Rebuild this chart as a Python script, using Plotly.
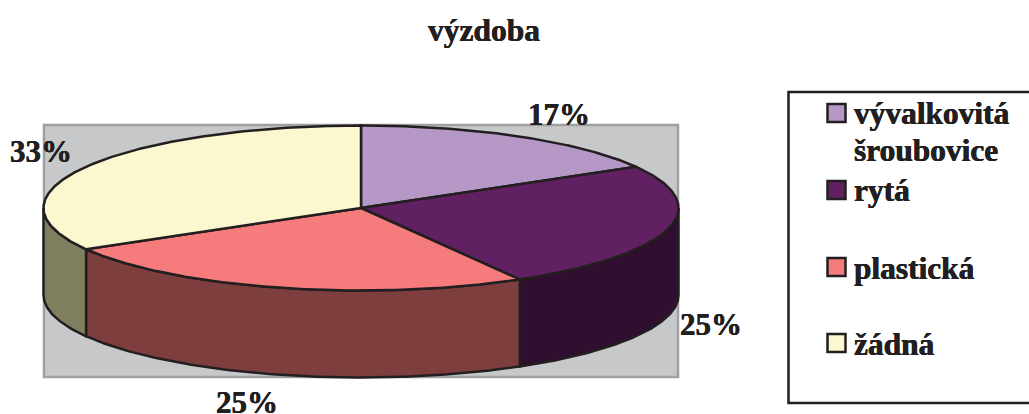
import numpy as np
import plotly.graph_objects as go

# Data
categories = ["vývalkovitá<br>šroubovice", "rytá", "plastická", "žádná"]
counts = [2, 3, 3, 4]
top_colors = ["#B598C6", "#612062", "#F57B7D", "#FBF8CF"]
side_colors = ["#5A4C63", "#300E30", "#7E3E3E", "#7F7F60"]
title_text = "výzdoba"

INK = "#231F20"
FONT = "Liberation Serif"
SHADOW = "0.35px 0 0 #231F20, -0.35px 0 0 #231F20"
W, H = 1029, 414
CX, CY, RX, RY, DEPTH = 361, 208, 317.5, 82.5, 87
LW = 2.5

total = sum(counts)
shares = [c / total for c in counts]
ends = np.cumsum(shares) * 360
starts = np.concatenate([[0], ends[:-1]])


def rim(a0, a1, dy=0.0, n=None):
    n = n or max(2, int(abs(a1 - a0)) * 2)
    t = np.radians(np.linspace(a0, a1, n))
    return CX + RX * np.sin(t), CY - RY * np.cos(t) + dy


fig = go.Figure()

# Side walls (only the front half, 90-270 deg, is visible)
for a0, a1, col in zip(starts, ends, side_colors):
    lo, hi = max(a0, 90), min(a1, 270)
    if lo >= hi:
        continue
    xt, yt = rim(lo, hi)
    xb, yb = rim(hi, lo, DEPTH)
    fig.add_trace(go.Scatter(
        x=np.r_[xt, xb, xt[0]], y=np.r_[yt, yb, yt[0]], mode="lines", fill="toself",
        fillcolor=col, line=dict(color=INK, width=LW), hoverinfo="skip", showlegend=False))

# Top faces
for a0, a1, col in zip(starts, ends, top_colors):
    xt, yt = rim(a0, a1)
    fig.add_trace(go.Scatter(
        x=np.r_[CX, xt, CX], y=np.r_[CY, yt, CY], mode="lines", fill="toself",
        fillcolor=col, line=dict(color=INK, width=LW), hoverinfo="skip", showlegend=False))

# Legend swatches
leg_y = [113, 190, 267, 343]
fig.add_trace(go.Scatter(
    x=[836.5] * 4, y=leg_y, mode="markers", hoverinfo="skip", showlegend=False,
    marker=dict(symbol="square", size=18, color=top_colors, line=dict(color=INK, width=2.5))))

annotations = []


def label(x, y, text, anchor="center", size=31):
    annotations.append(dict(
        x=x, y=y, xref="x", yref="y", text=f"<b>{text}</b>", showarrow=False,
        xanchor=anchor, yanchor="middle", align="left",
        font=dict(family=FONT, size=size, color=INK, shadow=SHADOW)))


# Percent labels
label_pos = [(559, 114), (711, 324), (247, 402), (41, 151)]
for (x, y), s in zip(label_pos, shares):
    label(x, y, f"{round(s * 100)}%")

# Legend text (one annotation per line, for the tight line gap)
leg_text_y = [[113, 150], [190.5], [268], [344]]
for cat, ys in zip(categories, leg_text_y):
    for line, y in zip(cat.split("<br>"), ys):
        label(852, y, line, anchor="left", size=31.4)

fig.update_layout(
    width=W, height=H, autosize=False,
    margin=dict(l=0, r=0, t=0, b=0),
    paper_bgcolor="white", plot_bgcolor="white",
    xaxis=dict(range=[0, W], visible=False, fixedrange=True),
    yaxis=dict(range=[H, 0], visible=False, fixedrange=True),
    title=dict(text=f"<b>{title_text}</b>", x=484 / W, y=1 - 30 / H, xanchor="center", yanchor="middle",
               font=dict(family=FONT, size=31.5, color=INK, shadow=SHADOW)),
    annotations=annotations,
    shapes=[
        dict(type="rect", layer="below", xref="x", yref="y", x0=44, x1=678, y0=125, y1=377,
             fillcolor="#C6C8CA", line=dict(color="#A0A0A2", width=2.5)),
        dict(type="rect", layer="below", xref="x", yref="y", x0=788.5, x1=1040, y0=92, y1=403,
             fillcolor="white", line=dict(color=INK, width=2.5)),
    ],
)

fig.write_html("out.html", config=dict(displayModeBar=False),
               post_script="document.body.style.margin='0';")
